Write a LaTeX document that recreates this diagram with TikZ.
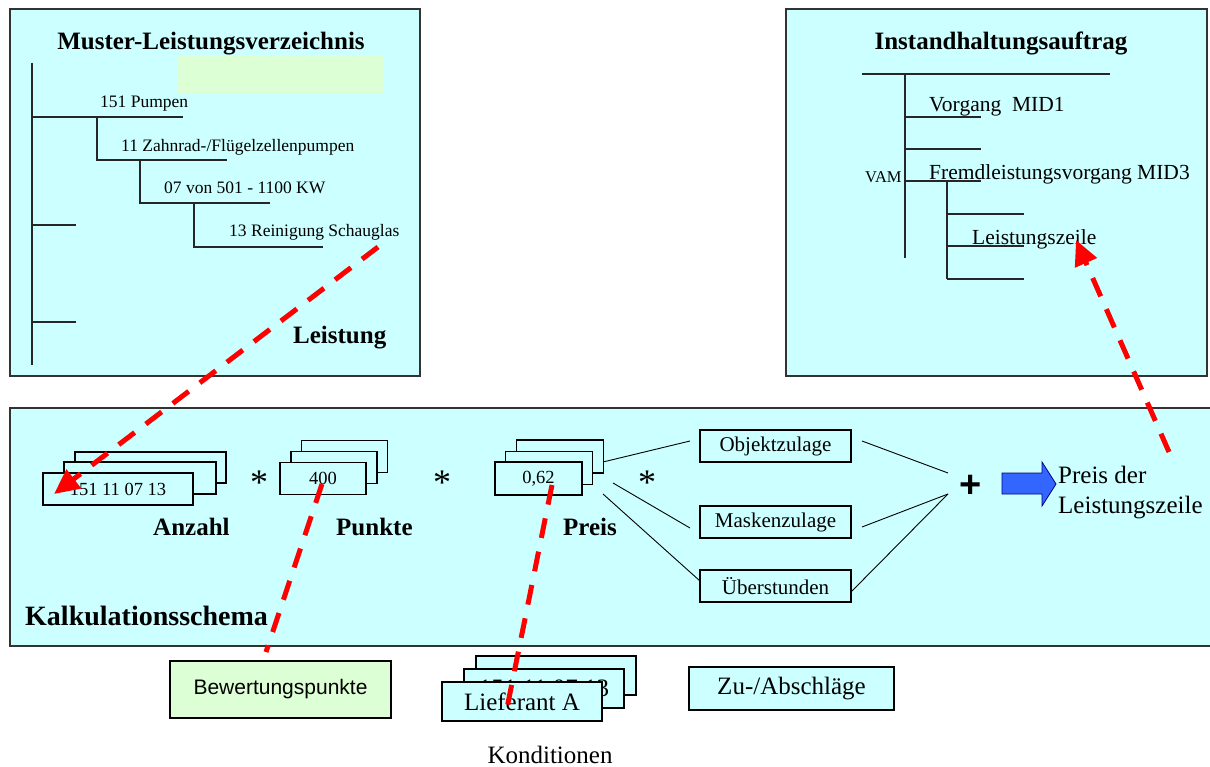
\documentclass[tikz,border=0pt]{standalone}
\usepackage{fontspec}
\setmainfont{Liberation Serif}
\setsansfont{Liberation Sans}
\usetikzlibrary{arrows.meta}

\definecolor{panel}{HTML}{CCFFFF}
\definecolor{mint}{HTML}{DDFFD5}
\definecolor{flowblue}{HTML}{3366FF}

\tikzset{
  panelbox/.style={draw=black!80, line width=1.3pt, fill=panel, inner sep=0pt},
  tree/.style={line width=1.2pt, draw=black!85},
  treetxt/.style={anchor=base west, inner sep=0pt, font=\fontsize{17.5}{21}\selectfont},
  ordertxt/.style={anchor=base west, inner sep=0pt, font=\fontsize{21.5}{26}\selectfont},
  heading/.style={anchor=base, inner sep=0pt, font=\fontsize{25}{30}\selectfont\bfseries},
  plain/.style={anchor=base west, inner sep=0pt, font=\fontsize{25}{30}\selectfont},
  card/.style={draw=black, line width=1.1pt, fill=panel, inner sep=0pt},
  numcard/.style={card, font=\fontsize{18.5}{22}\selectfont},
  extra/.style={card, minimum width=151pt, minimum height=32pt, font=\fontsize{21}{25}\selectfont},
  bigcard/.style={card, font=\fontsize{25}{30}\selectfont},
  op/.style={anchor=base, inner sep=0pt, font=\fontsize{36}{40}\selectfont},
  thin/.style={line width=0.9pt, draw=black},
  reddash/.style={draw=red, line width=5pt, dash pattern=on 20pt off 14pt},
  redarrow/.style={reddash, -{Triangle[length=25pt, width=23pt]}},
}

\begin{document}
\begin{tikzpicture}[x=1pt, y=-1pt]
\useasboundingbox (0,0) rectangle (1210,767);

% ---------- Muster-Leistungsverzeichnis ----------
\node[panelbox, minimum width=410pt, minimum height=367pt] (lv) at (215,192.5) {};
\fill[mint] (178,55) rectangle (383,93);
\node[heading] (lvtitle) at (211,50) {Muster-Leistungsverzeichnis};
\draw[tree] (32,63) -- (32,365);
\draw[tree] (32,117) -- (183,117);
\draw[tree] (97,117) -- (97,160) -- (227,160);
\draw[tree] (140,160) -- (140,203) -- (270,203);
\draw[tree] (194,203) -- (194,247) -- (323,247);
\draw[tree] (32,225) -- (76,225);
\draw[tree] (32,322) -- (76,322);
\node[treetxt] (t151) at (100,108) {151 Pumpen};
\node[treetxt] (t11) at (121,152) {11 Zahnrad-/Flügelzellenpumpen};
\node[treetxt] (t07) at (164,194) {07 von 501 - 1100 KW};
\node[treetxt] (t13) at (229,237) {13 Reinigung Schauglas};
\node[heading, anchor=base west] (leist) at (293,343) {Leistung};

% ---------- Instandhaltungsauftrag ----------
\node[panelbox, minimum width=421pt, minimum height=367pt] (ia) at (996.5,192.5) {};
\node[heading] (iatitle) at (1001,50) {Instandhaltungsauftrag};
\draw[tree] (862,74) -- (1110,74);
\draw[tree] (905,74) -- (905,258);
\draw[tree] (905,117) -- (981,117);
\draw[tree] (905,149) -- (981,149);
\draw[tree] (905,181) -- (981,181);
\draw[tree] (947,181) -- (947,279);
\draw[tree] (947,214) -- (1024,214);
\draw[tree] (947,246) -- (1024,246);
\draw[tree] (947,279) -- (1024,279);
\node[ordertxt] (vg1) at (929,112) {Vorgang~~MID1};
\node[anchor=base west, inner sep=0pt, font=\fontsize{16.5}{20}\selectfont] (vam) at (865,183) {VAM};
\node[ordertxt] (vg3) at (929,180) {Fremdleistungsvorgang MID3};
\node[ordertxt] (lz) at (972,245) {Leistungszeile};

% ---------- Kalkulationsschema ----------
\node[panelbox, minimum width=1204pt, minimum height=238pt] (ks) at (612,527) {};

% Anzahl stack
\node[numcard, minimum width=151pt, minimum height=31pt] (an3) at (150.5,467.5) {};
\node[numcard, minimum width=152pt, minimum height=32pt] (an2) at (140,478) {};
\node[numcard, minimum width=150pt, minimum height=32pt] (an1) at (118,489) {151 11 07 13};
\node[heading, anchor=base west] (anz) at (153,535) {Anzahl};

% Punkte stack
\node[numcard, minimum width=86pt, minimum height=32.5pt] (pk3) at (344.5,456.5) {};
\node[numcard, minimum width=86pt, minimum height=32.5pt] (pk2) at (334,467.5) {};
\node[numcard, minimum width=86pt, minimum height=32.5pt] (pk1) at (323,478.5) {400};
\node[heading, anchor=base west] (pkt) at (336,535) {Punkte};

% Preis stack
\node[numcard, minimum width=87pt, minimum height=33pt] (pr3) at (560,456.5) {};
\node[numcard, minimum width=87pt, minimum height=33pt] (pr2) at (549,468) {};
\node[numcard, minimum width=87pt, minimum height=33pt] (pr1) at (538.5,478.5) {0,62};
\node[heading, anchor=base west] (prs) at (563,535) {Preis};

% operators
\node[op] (m1) at (259,494) {*};
\node[op] (m2) at (442,494) {*};
\node[op] (m3) at (647,494) {*};
\node[anchor=base, inner sep=0pt, font=\sffamily\bfseries\fontsize{38}{40}\selectfont] (plus) at (971,497.5) {+};

\node[anchor=base west, inner sep=0pt, font=\fontsize{28}{32}\selectfont\bfseries] (kstitle) at (25,625) {Kalkulationsschema};

% surcharges
\node[extra] (oz) at (775.5,446) {Objektzulage};
\node[extra] (mz) at (775.5,522) {Maskenzulage};
\node[extra] (ue) at (775.5,586) {Überstunden};

\coordinate (pa) at (603,462); \coordinate (pb) at (613,483); \coordinate (pc) at (603,494);
\coordinate (oza) at (690,441); \coordinate (mza) at (690,528); \coordinate (uea) at (700,581);
\coordinate (ozb) at (862,441); \coordinate (mzb) at (862,527); \coordinate (ueb) at (851,592);
\coordinate (sa) at (948,473); \coordinate (sb) at (948,494);
\draw[thin] (pa) -- (oza);
\draw[thin] (pb) -- (mza);
\draw[thin] (pc) -- (uea);
\draw[thin] (ozb) -- (sa);
\draw[thin] (mzb) -- (sb);
\draw[thin] (ueb) -- (sb);

% result arrow
\draw[fill=flowblue, draw=blue!50!black, line width=0.8pt]
  (1002,473) -- (1042,473) -- (1042,462) -- (1056,484) -- (1042,506) -- (1042,494) -- (1002,494) -- cycle;
\node[plain] (res1) at (1058,483) {Preis der};
\node[plain] (res2) at (1058,513) {Leistungszeile};

% ---------- below the scheme ----------
\node[card, fill=mint, line width=2pt, minimum width=221pt, minimum height=57pt,
      font=\sffamily\fontsize{21}{25}\selectfont] (bw) at (280.5,689.5) {Bewertungspunkte};

\node[bigcard, minimum width=160pt, minimum height=39pt] (ko3) at (556,675.5) {};
\node[bigcard, minimum width=160pt, minimum height=39pt] (ko2) at (544,688.5) {151 11 07 13};
\node[bigcard, minimum width=160pt, minimum height=39pt] (ko1) at (522,701.5) {Lieferant A};
\node[anchor=base, inner sep=0pt, font=\fontsize{25}{30}\selectfont] (kond) at (550,763) {Konditionen};

\node[bigcard, line width=1.3pt, minimum width=205pt, minimum height=43pt] (za) at (791.5,688.5) {Zu-/Abschläge};

% ---------- red references ----------
\coordinate (r1s) at (378,247); \coordinate (r1e) at (54,494);
\coordinate (r2s) at (1169,452); \coordinate (r2e) at (1076,240);
\coordinate (r3s) at (322,484); \coordinate (r3e) at (266,652);
\coordinate (r4s) at (552,485); \coordinate (r4e) at (507,708);
\draw[redarrow] (r1s) -- (r1e);
\draw[redarrow] (r2s) -- (r2e);
\draw[reddash] (r3s) -- (r3e);
\draw[reddash] (r4s) -- (r4e);
\end{tikzpicture}
\end{document}
